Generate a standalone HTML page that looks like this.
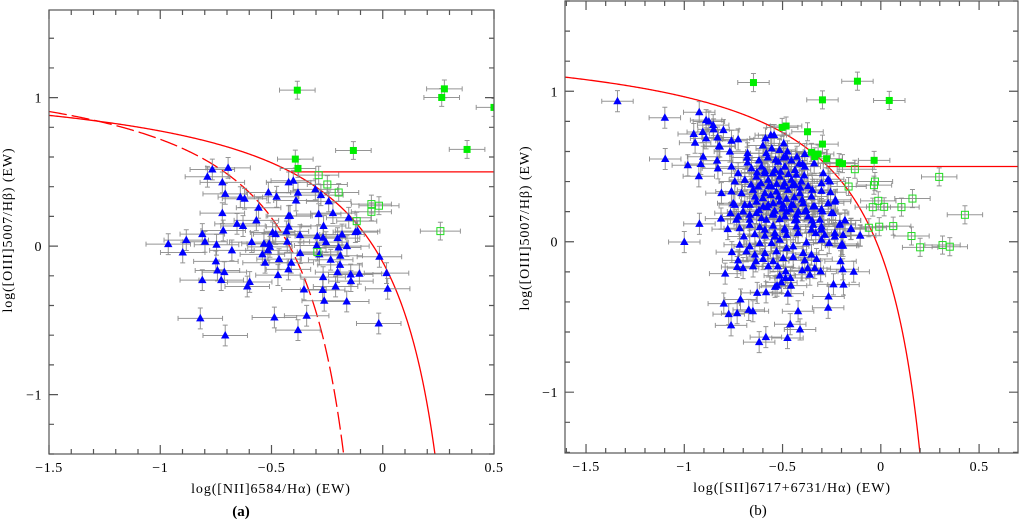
<!DOCTYPE html>
<html><head><meta charset="utf-8">
<style>
html,body{margin:0;padding:0;background:#fff;}
svg{display:block;font-family:"Liberation Serif","DejaVu Serif",serif;}
.ttl{font-size:14px;letter-spacing:0.9px;}
</style></head>
<body>
<svg id="chart" width="1019" height="521" viewBox="0 0 1019 521" xmlns="http://www.w3.org/2000/svg">
<g id="pa"></g>
<g id="pb"></g>
<text class="ttl" x="9" y="230" transform="rotate(-90 9 230)" text-anchor="middle" dominant-baseline="middle">log([OIII]5007/Hβ) (EW)</text>
<text class="ttl" x="271" y="493" text-anchor="middle">log([NII]6584/Hα) (EW)</text>
<text x="241" y="516" text-anchor="middle" font-size="15" font-weight="bold">(a)</text>
<text class="ttl" x="526" y="228" transform="rotate(-90 526 228)" text-anchor="middle" dominant-baseline="middle">log([OIII]5007/Hβ) (EW)</text>
<text class="ttl" x="792" y="492" text-anchor="middle">log([SII]6717+6731/Hα) (EW)</text>
<text x="758" y="515" text-anchor="middle" font-size="15">(b)</text>
</svg>
<script>
// ---------- Panel A data ----------
const aTriX = [-0.766,-0.695,-0.788,-0.721,-0.708,-0.640,-0.621,-0.514,-0.477,-0.423,-0.402,-0.381,-0.390,-0.303,-0.278,-0.243,-0.558,-0.721,-0.568,-0.655,-0.628,-0.717,-0.811,-0.883,-0.799,-0.747,-0.964,-0.899,-0.678,-0.589,-0.534,-0.510,-0.507,-0.516,-0.541,-0.495,-0.481,-0.433,-0.423,-0.424,-0.417,-0.372,-0.288,-0.224,-0.266,-0.294,-0.268,-0.255,-0.297,-0.285,-0.371,-0.429,-0.466,-0.411,-0.424,-0.471,-0.529,-0.750,-0.743,-0.712,-0.811,-0.726,-0.598,-0.609,-0.203,-0.183,-0.153,-0.123,-0.113,-0.161,-0.198,-0.191,-0.234,-0.192,-0.203,-0.144,-0.105,-0.143,-0.212,-0.268,-0.270,-0.263,-0.162,-0.354,-0.015,0.017,0.022,-0.018,-0.342,-0.381,-0.487,-0.820,-0.708];
const aTriY = [0.516,0.527,0.467,0.429,0.352,0.330,0.319,0.361,0.332,0.429,0.440,0.359,0.307,0.382,0.343,0.301,0.258,0.222,0.173,0.150,0.135,0.105,0.081,0.040,0.029,0.009,0.013,-0.043,-0.029,0.027,0.016,0.016,-0.005,-0.029,-0.056,0.092,0.081,0.099,0.130,0.202,0.204,0.074,0.215,0.222,0.135,0.067,0.056,0.027,0.004,-0.056,-0.047,0.029,-0.088,-0.112,-0.157,-0.195,-0.112,-0.103,-0.164,-0.175,-0.229,-0.229,-0.242,-0.272,0.054,0.078,0.191,0.094,0.101,0.000,-0.009,-0.065,-0.092,-0.126,-0.175,-0.191,-0.186,-0.236,-0.272,-0.209,-0.296,-0.368,-0.373,-0.292,-0.072,-0.182,-0.287,-0.521,-0.469,-0.566,-0.481,-0.487,-0.602];
const aFillX = [-0.384,0.277,0.265,0.500,-0.132,0.379,-0.393,-0.381];
const aFillY = [1.050,1.059,1.001,0.934,0.644,0.651,0.586,0.523];
const aOpenX = [-0.288,-0.249,-0.198,-0.051,-0.017,-0.051,-0.117,0.259,-0.294];
const aOpenY = [0.478,0.415,0.361,0.283,0.272,0.231,0.168,0.101,-0.040];
const aXTicks = [-1.5,-1,-0.5,0,0.5];
const aXTickLabels = ["−1.5","−1","−0.5","0","0.5"];
const aYTicks = [-1,0,1];
const aYTickLabels = ["−1","0","1"];

// ---------- Panel B data ----------
const bTriX = [-0.923,-1.000,-0.813,-0.779,-0.792,-0.799,-0.774,-0.731,-0.714,-0.762,-0.672,-0.651,-0.629,-0.584,-0.619,-0.585,-0.473,-0.421,-0.461,-0.475,-0.411,-0.266,-0.268,-0.241,-0.190,-0.138,-0.194,-0.205,-0.202,-0.105,-0.151,-0.182,-0.538,-0.528,-0.457,-0.506,-0.485,-0.460,-0.514,-0.400,-0.361,-0.306,-0.336,-0.372,-0.731,-0.701,-0.650,-0.726,-0.573,-0.524,-0.484,-0.636,-0.599,-0.548,-0.497,-0.446,-0.387,-0.327,-0.758,-0.684,-0.641,-0.590,-0.531,-0.480,-0.395,-0.353,-0.718,-0.667,-0.616,-0.556,-0.514,-0.446,-0.378,-0.302,-0.263,-0.192,-0.697,-0.641,-0.590,-0.539,-0.480,-0.421,-0.331,-0.285,-0.234,-0.718,-0.667,-0.616,-0.548,-0.489,-0.429,-0.344,-0.302,-0.209,-0.735,-0.667,-0.582,-0.514,-0.438,-0.350,-0.297,-0.243,-0.765,-0.701,-0.633,-0.548,-0.480,-0.429,-0.387,-0.344,-0.234,-0.743,-0.667,-0.599,-0.548,-0.497,-0.446,
-1.340,-1.099,-1.097,-0.924,-0.889,-0.875,-0.853,-0.952,-0.906,-0.945,-0.801,-0.831,-0.889,-0.851,-0.823,-0.768,-0.904,-0.833,-0.982,-0.916,-0.926,-0.829,-0.760,-0.726,-0.678,-0.583,-0.587,-0.560,-0.543,-0.494,-0.482,-0.427,-0.398,-0.339,-0.387,-0.293,-0.268,-0.259,-0.302,-0.349,-0.302,-0.256,-0.231,-0.302,-0.183,-0.153,-0.105,-0.197,-0.203,-0.387,-0.760,-0.726,-0.658,-0.607,-0.539,-0.488,-0.437,-0.743,-0.692,-0.633,-0.573,-0.514,-0.455,-0.404,-0.760,-0.709,-0.650,-0.590,-0.531,-0.472,-0.412,-0.353,-0.811,-0.751,-0.692,-0.633,-0.573,-0.514,-0.455,-0.395,-0.336,-0.268,-0.251,-0.726,-0.667,-0.607,-0.548,-0.488,-0.429,-0.370,-0.310,-0.208,-0.353,-0.302,-0.234,-0.192,-0.590,-0.539,-0.488,-0.421,-0.624,-0.556,-0.497,-0.437,-0.678,-0.819,-0.590,-0.522,
-0.620,-0.580,-0.540,-0.500,-0.460,-0.420,-0.380,-0.640,-0.600,-0.560,-0.520,-0.480,-0.440,-0.400,-0.660,-0.610,-0.570,-0.530,-0.490,-0.450,-0.410,-0.370,-0.630,-0.590,-0.550,-0.510,-0.470,-0.430,-0.390,-0.680,-0.620,-0.575,-0.535,-0.495,-0.455,-0.415,-0.600,-0.555,-0.515,-0.475];
const bTriY = [0.119,-0.002,0.154,0.084,-0.212,-0.411,-0.481,-0.475,-0.384,-0.556,-0.453,-0.462,-0.340,-0.336,-0.667,-0.634,-0.345,-0.462,-0.548,-0.640,-0.583,-0.364,-0.439,-0.283,-0.285,-0.199,-0.183,-0.130,-0.027,0.040,0.086,0.141,-0.300,-0.292,-0.292,-0.270,-0.241,-0.241,-0.225,-0.190,-0.219,-0.197,-0.175,-0.175,-0.168,-0.175,-0.164,-0.124,-0.164,-0.164,-0.197,-0.130,-0.115,-0.130,-0.108,-0.102,-0.124,-0.115,-0.069,-0.064,-0.086,-0.075,-0.064,-0.042,-0.075,-0.086,-0.020,-0.031,-0.009,-0.009,0.013,-0.031,-0.005,0.013,-0.009,-0.027,0.035,0.051,0.040,0.035,0.046,0.057,0.057,0.046,0.035,0.090,0.112,0.097,0.106,0.090,0.101,0.112,0.101,0.112,0.146,0.146,0.146,0.150,0.141,0.141,0.201,0.190,0.190,0.201,0.190,0.190,0.201,0.179,0.201,0.234,0.267,0.245,0.245,0.234,0.256,0.245,0.245,
0.934,0.824,0.550,0.861,0.808,0.799,0.775,0.716,0.729,0.658,0.742,0.693,0.687,0.747,0.636,0.599,0.565,0.539,0.508,0.517,0.435,0.488,0.671,0.680,0.588,0.588,0.687,0.709,0.709,0.654,0.565,0.565,0.517,0.521,0.583,0.455,0.415,0.400,0.389,0.345,0.338,0.329,0.278,0.217,0.142,0.084,0.042,-0.015,-0.026,0.499,0.499,0.455,0.488,0.499,0.477,0.499,0.477,0.400,0.411,0.433,0.411,0.433,0.411,0.400,0.334,0.323,0.345,0.323,0.334,0.345,0.323,0.301,0.323,0.256,0.245,0.267,0.245,0.267,0.245,0.256,0.234,0.256,0.190,0.168,0.179,0.157,0.179,0.168,0.146,0.168,0.146,0.120,0.080,0.080,0.058,0.045,0.080,0.058,0.080,0.058,0.367,0.367,0.367,0.378,0.526,0.632,0.455,0.532,
0.210,0.230,0.205,0.220,0.215,0.200,0.210,0.300,0.290,0.310,0.300,0.285,0.295,0.280,0.380,0.390,0.370,0.385,0.390,0.375,0.360,0.370,0.460,0.470,0.455,0.465,0.450,0.445,0.440,0.560,0.540,0.560,0.545,0.560,0.540,0.520,0.640,0.620,0.610,0.600];
const bFillX = [-0.648,-0.119,-0.297,0.043,-0.502,-0.482,-0.373,-0.297,-0.353,-0.319,-0.276,-0.212,-0.195,-0.034,-0.336];
const bFillY = [1.058,1.067,0.943,0.939,0.760,0.769,0.731,0.649,0.594,0.583,0.552,0.526,0.519,0.541,0.565];
const bOpenX = [-0.132,0.297,-0.030,-0.035,-0.164,-0.013,-0.041,0.017,0.105,0.161,0.428,-0.061,-0.008,0.063,0.156,0.200,0.314,0.351];
const bOpenY = [0.482,0.431,0.400,0.376,0.367,0.272,0.230,0.232,0.230,0.287,0.179,0.093,0.100,0.104,0.038,-0.037,-0.022,-0.033];
const bXTicks = [-1.5,-1,-0.5,0,0.5];
const bXTickLabels = ["−1.5","−1","−0.5","0","0.5"];
const bYTicks = [-1,0,1];
const bYTickLabels = ["−1","0","1"];

const NS = "http://www.w3.org/2000/svg";
function mk(parent, tag, attrs){
  const e = document.createElementNS(NS, tag);
  for (const k in attrs) e.setAttribute(k, attrs[k]);
  parent.appendChild(e);
  return e;
}

function drawPanel(g, cfg){
  const sx = v => cfg.L + (v - cfg.x0) / (cfg.x1 - cfg.x0) * (cfg.R - cfg.L);
  const sy = v => cfg.B - (v - cfg.y0) / (cfg.y1 - cfg.y0) * (cfg.B - cfg.T);
  const clipId = cfg.id + "clip";
  const defs = mk(g, "defs", {});
  const cp = mk(defs, "clipPath", {id: clipId});
  mk(cp, "rect", {x: cfg.L, y: cfg.T, width: cfg.R - cfg.L, height: cfg.B - cfg.T});
  const plot = mk(g, "g", {"clip-path": "url(#" + clipId + ")"});
  
  

  cfg.curves.forEach(c => {
    let d = "";
    for (let i = 0; i <= 400; i++){
      const x = c.xa + (c.xb - c.xa) * i / 400;
      const y = c.f(x);
      d += (i ? "L" : "M") + sx(x).toFixed(2) + " " + sy(y).toFixed(2);
    }
    const p = mk(plot, "path", {d: d, fill: "none", stroke: "#f00", "stroke-width": 1.3});
    if (c.dash) p.setAttribute("stroke-dasharray", c.dash);
    
    
  });
  const hl = mk(plot, "line", {x1: sx(cfg.hx), x2: cfg.R, y1: sy(0.5), y2: sy(0.5), stroke: "#f00", "stroke-width": 1.3});
  
  

  function errbar(px, py, ex, ey){
    const x = sx(px), y = sy(py);
    const xl = sx(px - ex), xr = sx(px + ex), yt = sy(py + ey), yb = sy(py - ey);
    const eb = mk(plot, "path", {d: `M${xl} ${y}H${xr}M${x} ${yt}V${yb}M${xl} ${y-2.5}V${y+2.5}M${xr} ${y-2.5}V${y+2.5}M${x-2.5} ${yt}H${x+2.5}M${x-2.5} ${yb}H${x+2.5}`, stroke: "#8a8a8a", "stroke-width": 1, fill: "none", opacity: 0.9});
    
    
  }
  cfg.tx.forEach((v, i) => errbar(v, cfg.ty[i], cfg.tex, cfg.tey));
  cfg.fx.forEach((v, i) => errbar(v, cfg.fy[i], 0.08, 0.06));
  cfg.ox.forEach((v, i) => errbar(v, cfg.oy[i], 0.09, 0.06));
  cfg.tx.forEach((v, i) => {
    const x = sx(v), y = sy(cfg.ty[i]);
    const t = mk(plot, "polygon", {points: `${x},${y-4.5} ${x-4.2},${y+3} ${x+4.2},${y+3}`, fill: "#0000ff"});
    
    
  });
  cfg.fx.forEach((v, i) => {
    const x = sx(v), y = sy(cfg.fy[i]);
    const r = mk(plot, "rect", {x: x - 3.5, y: y - 3.5, width: 7, height: 7, fill: "#00ee00"});
    
    
  });
  cfg.ox.forEach((v, i) => {
    const x = sx(v), y = sy(cfg.oy[i]);
    const r = mk(plot, "rect", {x: x - 3.5, y: y - 3.5, width: 7, height: 7, fill: "none", stroke: "#22dd22", "stroke-width": 1});
    
    
  });

  const fr = mk(g, "rect", {x: cfg.L, y: cfg.T, width: cfg.R - cfg.L, height: cfg.B - cfg.T, fill: "none", stroke: "#555", "stroke-width": 1.2});
  
  
  let d = "";
  for (let k = Math.ceil(cfg.x0 * 10); k <= Math.floor(cfg.x1 * 10); k++){
    const x = sx(k / 10), len = (k % 5 === 0) ? 9 : 5;
    d += `M${x} ${cfg.B}V${cfg.B-len}M${x} ${cfg.T}V${cfg.T+len}`;
  }
  for (let k = Math.ceil(cfg.y0 * 5); k <= Math.floor(cfg.y1 * 5); k++){
    const y = sy(k / 5), len = (k % 5 === 0) ? 9 : 5;
    d += `M${cfg.L} ${y}H${cfg.L+len}M${cfg.R} ${y}H${cfg.R-len}`;
  }
  const tk = mk(g, "path", {d: d, stroke: "#555", "stroke-width": 1.2, fill: "none"});
  
  
  cfg.xt.forEach((v, i) => {
    const t = mk(g, "text", {x: sx(v), y: cfg.B + 18, "text-anchor": "middle", "font-size": 14, "letter-spacing": 0.5});
    t.textContent = cfg.xtl[i];
    
    
  });
  cfg.yt.forEach((v, i) => {
    const t = mk(g, "text", {x: cfg.L - 7, y: sy(v) + 5, "text-anchor": "end", "font-size": 14, "letter-spacing": 0.5});
    t.textContent = cfg.ytl[i];
    
    
  });
}

drawPanel(document.getElementById("pa"), {
  id: "a", L: 49, R: 494, T: 10, B: 454, x0: -1.5, x1: 0.5, y0: -1.4, y1: 1.59,
  tx: aTriX, ty: aTriY, tex: 0.1, tey: 0.07, fx: aFillX, fy: aFillY, ox: aOpenX, oy: aOpenY,
  xt: aXTicks, xtl: aXTickLabels, yt: aYTicks, ytl: aYTickLabels, hx: -0.414,
  curves: [
    {name: "kewley-curve", xa: -1.5, xb: 0.236, f: x => 0.61 / (x - 0.47) + 1.19},
    {name: "kauffmann-curve", xa: -1.5, xb: -0.174, f: x => 0.61 / (x - 0.05) + 1.3, dash: "18 5"}
  ]
});
drawPanel(document.getElementById("pb"), {
  id: "b", L: 565, R: 1018, T: 1, B: 453, x0: -1.607, x1: 0.698, y0: -1.404, y1: 1.6,
  tx: bTriX, ty: bTriY, tex: 0.08, tey: 0.07, fx: bFillX, fy: bFillY, ox: bOpenX, oy: bOpenY,
  xt: bXTicks, xtl: bXTickLabels, yt: bYTicks, ytl: bYTickLabels, hx: -0.269,
  curves: [
    {name: "kewley-sii-curve", xa: -1.607, xb: 0.22, f: x => 0.62 / (x - 0.42) + 1.40}
  ]
});
</script>
</body></html>
